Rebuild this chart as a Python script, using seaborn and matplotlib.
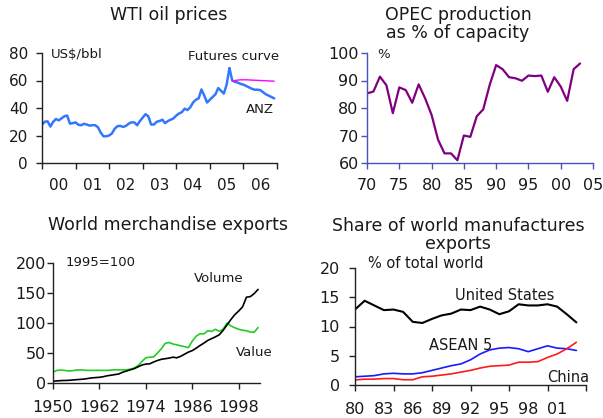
import numpy as np
import pandas as pd
import seaborn as sns
import matplotlib
matplotlib.use("Agg")
import matplotlib.pyplot as plt
from matplotlib.ticker import FixedLocator, NullFormatter, FixedFormatter

# ---- WTI oil prices, monthly from Jan 2000 (index 0) ----
wti_actual = [27.9, 30.0, 30.3, 26.5, 30.0, 32.0, 31.0, 32.5, 34.0, 34.5, 28.6, 29.0,
              29.5, 27.8, 27.5, 28.5, 28.0, 27.2, 27.5, 27.5, 26.0, 22.0, 19.4, 19.5,
              20.0, 21.5, 25.0, 26.8, 27.0, 26.2, 27.0, 28.6, 29.6, 29.5, 27.5, 30.5,
              33.0, 35.5, 34.0, 28.0, 28.0, 30.0, 30.5, 31.5, 29.0, 30.5, 31.5, 32.5,
              34.5, 36.0, 37.0, 39.5, 38.5, 40.5, 44.0, 46.0, 47.0, 53.5, 49.0, 44.0,
              46.0, 48.0, 50.0, 54.5, 52.5, 50.5, 57.0, 69.0]
wti_anz = [69.0, 60.0, 59.0, 58.5, 57.5, 57.0, 56.0, 55.0, 54.0, 53.3, 53.3, 53.0,
           51.5, 50.0, 49.0, 48.0, 47.0]
wti_futures = [59.5, 60.0, 60.3, 60.5, 60.5, 60.5, 60.4, 60.3, 60.2, 60.1, 60.0,
               59.9, 59.8, 59.7, 59.6, 59.5]
wti_ticks = [0, 12, 24, 36, 48, 60, 72, 84]
wti_labels = ["00", "01", "02", "03", "04", "05", "06"]

# ---- OPEC production as % of capacity, 1970-2003 ----
opec_years = list(range(1970, 2004))
opec_util = [85.3, 86.0, 91.4, 88.3, 78.1, 87.5, 86.5, 81.9, 88.6, 83.5,
             77.5, 68.5, 63.5, 63.5, 61.0, 70.0, 69.5, 77.0, 79.5, 88.4,
             95.6, 94.1, 91.2, 90.8, 89.9, 91.8, 91.6, 91.8, 85.9, 91.2,
             87.8, 82.6, 94.1, 96.2]

# ---- World merchandise exports, 1995=100 ----
exp_years = list(range(1950, 2004))
exp_green = [18, 21, 21.5, 21, 20, 20.5, 21.5, 22, 21.5, 21,
             21, 21, 21, 21, 21, 21.5, 22, 22, 22, 22,
             23, 25, 29, 36, 42, 43, 43.5, 50, 57, 66,
             67.5, 65, 63.5, 62, 60.5, 59, 70, 78, 82, 82,
             87, 86, 89.5, 86, 90, 100, 95, 92, 89.5, 88,
             87, 85, 84.5, 92.5]
exp_black = [3, 3.5, 4, 4.2, 4.4, 5, 5.5, 6, 6.5, 7.5,
             8.5, 9, 9.5, 10.5, 12, 13, 14, 15, 18, 20,
             22, 24, 27, 30, 31.5, 32, 35, 37.5, 39.5, 40.5,
             41.5, 43, 42, 44.5, 48, 51.5, 54, 58, 62.5, 66.5,
             71, 74, 77, 80.5, 88, 97, 106, 114, 120, 127,
             143, 144, 149, 156]
exp_ticks = [1950, 1962, 1974, 1986, 1998]

# ---- Share of world manufactures exports, 1980-2003 ----
share_years = list(range(1980, 2004))
share_us = [12.9, 14.4, 13.6, 12.8, 12.9, 12.5, 10.8, 10.6, 11.3, 11.9,
            12.2, 12.9, 12.8, 13.4, 12.9, 12.1, 12.6, 13.8, 13.6, 13.6,
            13.8, 13.4, 12.1, 10.7]
share_asean = [1.4, 1.5, 1.6, 1.9, 2.0, 1.9, 1.9, 2.1, 2.5, 2.9,
               3.3, 3.6, 4.3, 5.3, 6.0, 6.3, 6.4, 6.2, 5.7, 6.2,
               6.7, 6.3, 6.2, 5.9]
share_china = [0.86, 1.0, 1.0, 1.1, 1.1, 0.9, 0.9, 1.4, 1.5, 1.7,
               1.9, 2.2, 2.5, 2.9, 3.2, 3.3, 3.4, 3.9, 3.9, 4.0,
               4.7, 5.3, 6.2, 7.3]
share_ticks = [1980, 1984, 1988, 1992, 1996, 2000, 2004]
share_label_years = [1980, 1983, 1986, 1989, 1992, 1995, 1998, 2001]

sns.set_style("ticks")
plt.rcParams['font.family'] = ['DejaVu Sans']

W, H = 603, 418
fig = plt.figure(figsize=(W / 100, H / 100), dpi=100)


def px_axes(left, top, right, bottom):
    return fig.add_axes([left / W, 1 - bottom / H, (right - left) / W, (bottom - top) / H])


def style_axes(ax, color, ypad, xpad, size):
    sns.despine(ax=ax)
    for s in ("left", "bottom"):
        ax.spines[s].set_color(color)
        ax.spines[s].set_linewidth(1.0)
    ax.tick_params(axis="both", which="major", colors=color, labelcolor="#1a1a1a",
                   labelsize=size, length=4, width=1.0, direction="out")
    ax.tick_params(axis="y", pad=ypad)
    ax.tick_params(axis="x", pad=xpad)
    ax.set_xlabel("")
    ax.set_ylabel("")
    if ax.get_legend() is not None:
        ax.get_legend().remove()


def title(x, y, txt):
    fig.text(x / W, 1 - y / H, txt, ha="center", va="center", fontsize=12.5, color="#1a1a1a",
             linespacing=1.05)


def label(x, y, txt, size=9.5):
    # x, y in figure pixels, left / vertical centre
    fig.text(x / W, 1 - y / H, txt, ha="left", va="center", fontsize=size, color="#1a1a1a")


# ---- Panel 1 ----
ax1 = px_axes(42, 53, 277, 163)
sns.lineplot(x=np.arange(len(wti_actual)), y=wti_actual, ax=ax1, color="#3377ff", lw=1.8)
sns.lineplot(x=np.arange(67, 67 + len(wti_anz)), y=wti_anz, ax=ax1, color="#3377ff", lw=1.8)
sns.lineplot(x=np.arange(68, 68 + len(wti_futures)), y=wti_futures, ax=ax1, color="#ff00ff", lw=1.0)
ax1.set_xlim(0, 84)
ax1.set_ylim(0, 80)
ax1.set_yticks([0, 20, 40, 60, 80])
ax1.xaxis.set_major_locator(FixedLocator(wti_ticks))
ax1.xaxis.set_major_formatter(NullFormatter())
ax1.xaxis.set_minor_locator(FixedLocator([t + 6 for t in wti_ticks[:-1]]))
ax1.xaxis.set_minor_formatter(FixedFormatter(wti_labels))
style_axes(ax1, "#222222", 6, 6, 11)
ax1.tick_params(axis="x", which="minor", length=0, pad=11, labelsize=11, labelcolor="#1a1a1a")
title(169, 15, "WTI oil prices")
label(51, 54, "US$/bbl")
label(188, 57, "Futures curve")
label(246, 110, "ANZ")

# ---- Panel 2 ----
ax2 = px_axes(367, 53, 593, 163)
sns.lineplot(x=opec_years, y=opec_util, ax=ax2, color="#800080", lw=1.6)
ax2.set_xlim(1970, 2005)
ax2.set_ylim(60, 100)
ax2.set_yticks([60, 70, 80, 90, 100])
ax2.set_xticks(list(range(1970, 2006, 5)))
ax2.set_xticklabels([str(y)[2:] for y in range(1970, 2006, 5)])
style_axes(ax2, "#4455bb", 2, 7, 11.5)
title(458, 24, "OPEC production\nas % of capacity")
label(377, 55, "%")

# ---- Panel 3 ----
ax3 = px_axes(53, 263, 260, 383)
sns.lineplot(x=exp_years, y=exp_green, ax=ax3, color="#22cc22", lw=1.2)
sns.lineplot(x=exp_years, y=exp_black, ax=ax3, color="#000000", lw=1.2)
ax3.set_xlim(1950, 2003.5)
ax3.set_ylim(0, 200)
ax3.set_yticks([0, 50, 100, 150, 200])
ax3.set_xticks(exp_ticks)
style_axes(ax3, "#222222", 1, 8, 11.5)
title(168, 225, "World merchandise exports")
label(66, 263, "1995=100")
label(194, 278, "Volume")
label(236, 353, "Value")

# ---- Panel 4 ----
ax4 = px_axes(355, 268, 586, 385)
sns.lineplot(x=share_years, y=share_us, ax=ax4, color="#000000", lw=1.5)
sns.lineplot(x=share_years, y=share_asean, ax=ax4, color="#1a1aff", lw=1.2)
sns.lineplot(x=share_years, y=share_china, ax=ax4, color="#ff1a1a", lw=1.2)
ax4.set_xlim(1980, 2004)
ax4.set_ylim(0, 20)
ax4.set_yticks([0, 5, 10, 15, 20])
ax4.xaxis.remove_overlapping_locs = False
ax4.xaxis.set_major_locator(FixedLocator(share_ticks))
ax4.xaxis.set_major_formatter(NullFormatter())
ax4.xaxis.set_minor_locator(FixedLocator(share_label_years))
ax4.xaxis.set_minor_formatter(FixedFormatter([str(y)[2:] for y in share_label_years]))
style_axes(ax4, "#222222", 7, 8, 11.5)
ax4.tick_params(axis="x", which="minor", length=0, pad=12, labelsize=11.5, labelcolor="#1a1a1a")
title(458, 235, "Share of world manufactures\nexports")
label(368, 264, "% of total world", 10.5)
label(455, 295, "United States", 10.5)
label(429, 345, "ASEAN 5", 10.5)
label(547, 377, "China", 10.5)

fig.savefig("out.png", dpi=100)
